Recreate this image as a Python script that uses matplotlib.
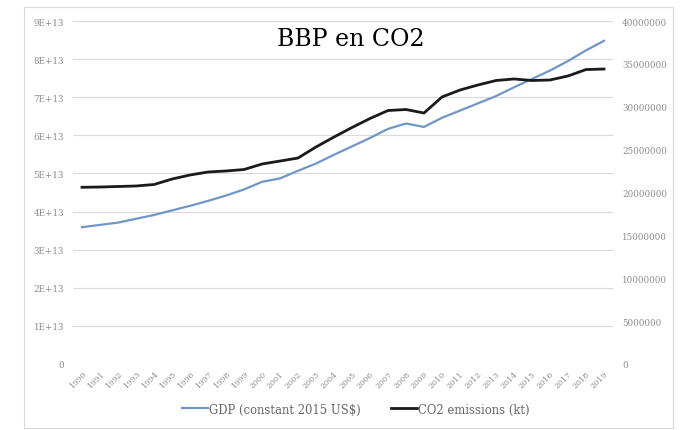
import numpy as np
import matplotlib
matplotlib.use("Agg")
import matplotlib.pyplot as plt
from matplotlib.patches import Rectangle

# data
years = list(range(1990, 2020))
gdp_trillion = [35.9, 36.5, 37.1, 38.1, 39.1, 40.3, 41.5, 42.8, 44.2, 45.8,
                47.8, 48.7, 50.7, 52.6, 54.9, 57.1, 59.3, 61.7, 63.1, 62.2,
                64.6, 66.5, 68.4, 70.3, 72.6, 74.8, 77.0, 79.5, 82.3, 84.8]
co2_million_kt = [20.61, 20.64, 20.70, 20.76, 20.93, 21.57, 22.04, 22.39, 22.51, 22.68,
                  23.32, 23.67, 24.02, 25.31, 26.47, 27.58, 28.63, 29.56, 29.68, 29.27,
                  31.14, 31.95, 32.54, 33.06, 33.24, 33.06, 33.12, 33.59, 34.34, 34.40]
left_ticks = [i * 1e13 for i in range(10)]
left_labels = ["0"] + ["%dE+13" % i for i in range(1, 10)]
right_ticks = [i * 5000000 for i in range(9)]
right_labels = [str(int(t)) for t in right_ticks]

gdp = np.array(gdp_trillion) * 1e12
co2 = np.array(co2_million_kt) * 1e6

plt.rcParams['font.family'] = ['DejaVu Serif']

W, H = 691, 431
fig = plt.figure(figsize=(W / 100, H / 100), dpi=100)

# chart border
fig.patches.append(Rectangle((24 / W, 0.005), (673 - 24) / W, (H - 8) / H - 0.005,
                             transform=fig.transFigure, fill=False,
                             edgecolor='#d9d9d9', linewidth=0.8))

ax = fig.add_axes([73 / W, (H - 365) / H, 540 / W, 343 / H])
ax2 = ax.twinx()

x = np.arange(len(years))
ax.plot(x, gdp, color='#7096c8', linewidth=1.6, label='GDP (constant 2015 US$)')
ax2.plot(x, co2, color='#1a1a1a', linewidth=2.0, label='CO2 emissions (kt)')

ax.set_xlim(-0.5, len(years) - 0.5)
ax.set_ylim(0, 9e13)
ax2.set_ylim(0, 4e7)

ax.set_yticks(left_ticks)
ax.set_yticklabels(left_labels)
ax2.set_yticks(right_ticks)
ax2.set_yticklabels(right_labels)
ax.set_xticks(x)
ax.set_xticklabels([str(y) for y in years], rotation=45, ha='right', va='top',
                   rotation_mode='anchor')

ax.grid(axis='y', color='#d9d9d9', linewidth=0.8)
ax.set_axisbelow(True)
for a in (ax, ax2):
    for s in a.spines.values():
        s.set_visible(False)
    a.tick_params(length=0, labelsize=6.3, labelcolor='#8c8c8c')
ax.tick_params(axis='y', pad=6.5)
ax2.tick_params(axis='y', pad=6.5)
ax.tick_params(axis='x', pad=4, labelsize=5.8)

fig.text(351 / W, 1 - 39 / H, "BBP en CO2", ha='center', va='center',
         fontsize=17, color='#000000')

h1, l1 = ax.get_legend_handles_labels()
h2, l2 = ax2.get_legend_handles_labels()
fig.legend(h1 + h2, l1 + l2, loc='center', bbox_to_anchor=(356 / W, 1 - 410 / H),
           ncol=2, frameon=False, fontsize=8.4, handlelength=2.2, handletextpad=0.1,
           columnspacing=2.6, labelcolor='#666666')

fig.savefig("out.png", dpi=100)
